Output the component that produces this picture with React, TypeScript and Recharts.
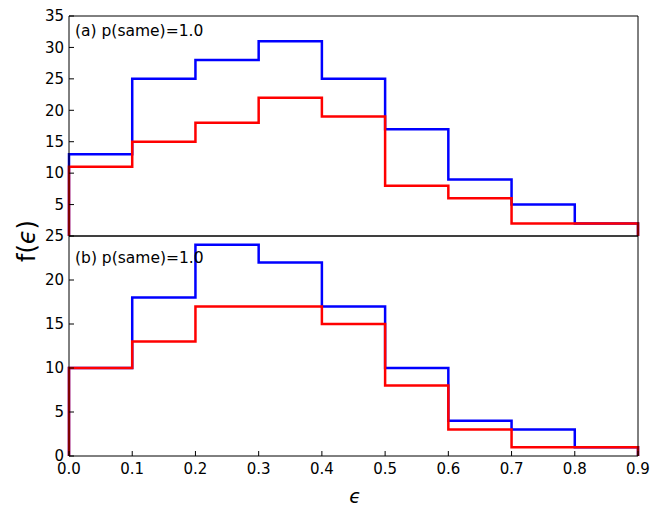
import React from "react";
import { LineChart, Line, XAxis, YAxis } from "recharts";

// bin edges of the histogram (epsilon)
const edges = [0, 0.1, 0.2, 0.3, 0.4, 0.5, 0.6, 0.7, 0.8, 0.9];

// panel (a)
const topBlue = [13, 25, 28, 31, 25, 17, 9, 5, 2];
const topRed = [11, 15, 18, 22, 19, 8, 6, 2, 2];
const topYTicks = [5, 10, 15, 20, 25, 30, 35];

// panel (b)
const bottomBlue = [10, 18, 24, 22, 17, 10, 4, 3, 1];
const bottomRed = [10, 13, 17, 17, 15, 8, 3, 1, 1];
const bottomYTicks = [0, 5, 10, 15, 20, 25];

const FONT = "DejaVu Sans";

// step outline like matplotlib histtype="step"
function stepRows(blue: number[], red: number[]) {
  const rows = [{ x: edges[0], blue: 0, red: 0 }];
  blue.forEach((b, i) => rows.push({ x: edges[i], blue: b, red: red[i] }));
  const n = blue.length;
  rows.push({ x: edges[n], blue: blue[n - 1], red: red[n - 1] });
  rows.push({ x: edges[n], blue: 0, red: 0 });
  return rows;
}

const tickStyle = { fontFamily: FONT, fontSize: 15, fill: "#000" };
const axisLine = { stroke: "#000", strokeWidth: 1 };

interface PanelProps {
  data: { x: number; blue: number; red: number }[];
  yTicks: number[];
  yMax: number;
  height: number;
  margin: { top: number; right: number; bottom: number; left: number };
  showXLabels: boolean;
}

const Panel: React.FC<PanelProps> = ({ data, yTicks, yMax, height, margin, showXLabels }) => (
  <div style={{ position: "absolute", left: 0, top: 0 }}>
    <LineChart width={668} height={height} data={data} margin={margin}>
      {showXLabels ? (
        <XAxis
          xAxisId="b"
          dataKey="x"
          type="number"
          domain={[0, 0.9]}
          ticks={edges}
          tickFormatter={(v: number) => v.toFixed(1)}
          tick={tickStyle}
          tickSize={-5}
          tickMargin={12}
          height={30}
          axisLine={axisLine}
          tickLine={{ stroke: "#000" }}
        />
      ) : (
        <XAxis
          xAxisId="b"
          dataKey="x"
          type="number"
          domain={[0, 0.9]}
          ticks={edges}
          tick={false}
          mirror
          tickSize={5}
          axisLine={axisLine}
          tickLine={{ stroke: "#000" }}
        />
      )}
      <XAxis
        xAxisId="t"
        orientation="top"
        dataKey="x"
        type="number"
        domain={[0, 0.9]}
        ticks={edges}
        tick={false}
        mirror
        tickSize={5}
        axisLine={axisLine}
        tickLine={{ stroke: "#000" }}
      />
      <YAxis
        yAxisId="l"
        domain={[0, yMax]}
        ticks={yTicks}
        tick={tickStyle}
        tickSize={-5}
        tickMargin={10}
        width={60}
        axisLine={axisLine}
        tickLine={{ stroke: "#000" }}
      />
      <YAxis
        yAxisId="r"
        orientation="right"
        domain={[0, yMax]}
        ticks={yTicks}
        tick={false}
        mirror
        tickSize={5}
        axisLine={axisLine}
        tickLine={{ stroke: "#000" }}
      />
      <Line
        xAxisId="b"
        yAxisId="l"
        type="stepAfter"
        dataKey="blue"
        stroke="#0000ff"
        strokeWidth={2.5}
        strokeLinejoin="miter"
        dot={false}
        isAnimationActive={false}
      />
      <Line
        xAxisId="b"
        yAxisId="l"
        type="stepAfter"
        dataKey="red"
        stroke="#ff0000"
        strokeWidth={2.5}
        strokeLinejoin="miter"
        dot={false}
        isAnimationActive={false}
      />
    </LineChart>
  </div>
);

export default function App() {
  return (
    <div style={{ position: "absolute", left: 0, top: 0, width: 668, height: 506, background: "#fff" }}>
      <Panel
        data={stepRows(topBlue, topRed)}
        yTicks={topYTicks}
        yMax={35}
        height={250}
        margin={{ top: 16, right: 30, bottom: 14, left: 9 }}
        showXLabels={false}
      />
      <Panel
        data={stepRows(bottomBlue, bottomRed)}
        yTicks={bottomYTicks}
        yMax={25}
        height={506}
        margin={{ top: 236, right: 30, bottom: 20, left: 9 }}
        showXLabels={true}
      />
      <svg
        width={668}
        height={506}
        style={{ position: "absolute", left: 0, top: 0, pointerEvents: "none" }}
        fontFamily={FONT}
      >
        <text x={75} y={31} fontSize={15.5} dominantBaseline="central">
          (a) p(same)=1.0
        </text>
        <text x={75} y={258} fontSize={15.5} dominantBaseline="central">
          (b) p(same)=1.0
        </text>
        <text
          x={27}
          y={241}
          fontSize={24}
          textAnchor="middle"
          dominantBaseline="central"
          transform="rotate(-90 27 241)"
        >
          f(<tspan fontStyle="italic">ϵ</tspan>)
        </text>
        <text x={355} y={496} fontSize={19} fontStyle="italic" textAnchor="middle" dominantBaseline="central">
          ϵ
        </text>
      </svg>
    </div>
  );
}
